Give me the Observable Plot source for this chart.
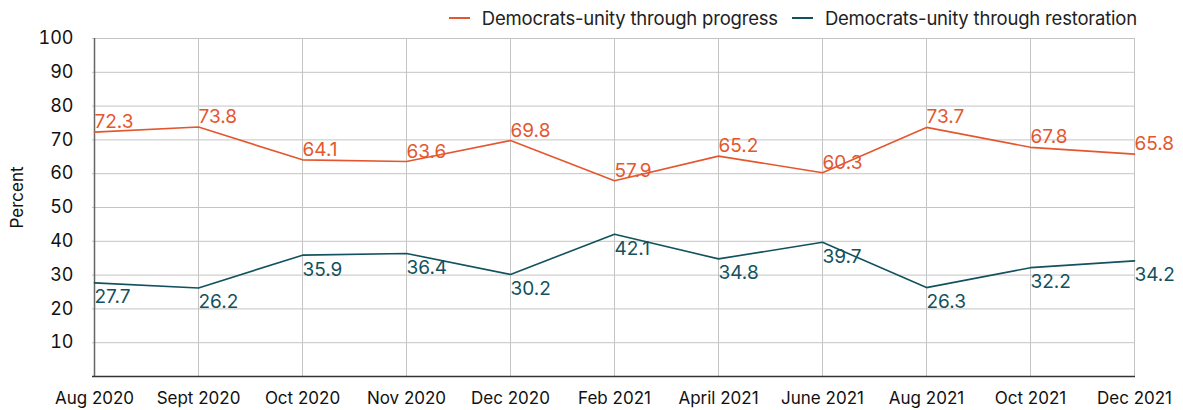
<!DOCTYPE html>
<html>
<head>
<meta charset="utf-8">
<script src="https://cdn.jsdelivr.net/npm/d3@7"></script>
<script src="https://cdn.jsdelivr.net/npm/@observablehq/plot@0.6"></script>
<style>
  html, body { margin: 0; padding: 0; background: #fff; }
  body { width: 1183px; height: 410px; overflow: hidden; font-family: Inter, "Noto Sans", sans-serif; }
  #legend { height: 30px; display: flex; justify-content: flex-end; align-items: center; padding-right: 46px; gap: 14px; font-size: 18.5px; letter-spacing: -0.2px; color: #222; box-sizing: border-box; padding-top: 6px; }
  #legend .item { display: flex; align-items: center; gap: 12px; }
  #legend .sw { width: 21px; height: 2px; display: inline-block; }
  #chart svg { overflow: visible; }
</style>
</head>
<body>
<div id="legend"></div>
<div id="chart"></div>
<script>
const categories = ["Aug 2020", "Sept 2020", "Oct 2020", "Nov 2020", "Dec 2020", "Feb 2021", "April 2021", "June 2021", "Aug 2021", "Oct 2021", "Dec 2021"];
const seriesNames = ["Democrats-unity through progress", "Democrats-unity through restoration"];
const progress = [72.3, 73.8, 64.1, 63.6, 69.8, 57.9, 65.2, 60.3, 73.7, 67.8, 65.8];
const restoration = [27.7, 26.2, 35.9, 36.4, 30.2, 42.1, 34.8, 39.7, 26.3, 32.2, 34.2];
const yTicks = [10, 20, 30, 40, 50, 60, 70, 80, 90, 100];
const colors = ["#E4572E", "#11525E"];

const legend = document.getElementById("legend");
seriesNames.forEach((n, i) => {
  const it = document.createElement("div");
  it.className = "item";
  it.innerHTML = `<span class="sw" style="background:${colors[i]}"></span><span>${n}</span>`;
  legend.appendChild(it);
});

const prog = categories.map((c, i) => ({cat: c, value: progress[i]}));
const rest = categories.map((c, i) => ({cat: c, value: restoration[i]}));

const chart = Plot.plot({
  width: 1183,
  height: 380,
  marginTop: 8,
  marginBottom: 34,
  marginLeft: 92,
  marginRight: 48,
  style: {fontFamily: "Inter, 'Noto Sans', sans-serif", color: "#111", background: "#fff", overflow: "visible"},
  x: {type: "point", domain: categories, padding: 0, label: null},
  y: {domain: [0, 100], label: null},
  marks: [
    Plot.gridY(yTicks, {stroke: "#c4c4c4", strokeOpacity: 1, strokeWidth: 1}),
    Plot.gridX(categories, {stroke: "#c4c4c4", strokeOpacity: 1, strokeWidth: 1}),
    Plot.ruleX([categories[0]], {stroke: "#666", strokeWidth: 1.5}),
    Plot.ruleY([0], {stroke: "#333", strokeWidth: 1.5}),
    Plot.axisY(yTicks, {tickSize: 0, tickPadding: 19, fontSize: 18, label: null}),
    Plot.axisX(categories, {tickSize: 0, tickPadding: 15, fontSize: 17, label: null}),
    Plot.lineY(prog, {x: "cat", y: "value", stroke: colors[0], strokeWidth: 1.6}),
    Plot.lineY(rest, {x: "cat", y: "value", stroke: colors[1], strokeWidth: 1.6}),
    Plot.text(prog, {x: "cat", y: "value", text: d => d.value.toFixed(1), fill: colors[0], textAnchor: "start", lineAnchor: "bottom", dy: -4, fontSize: 19, letterSpacing: -0.5}),
    Plot.text(rest, {x: "cat", y: "value", text: d => d.value.toFixed(1), fill: colors[1], textAnchor: "start", lineAnchor: "top", dy: 7, fontSize: 19, letterSpacing: -0.5}),
    Plot.text(["Percent"], {frameAnchor: "left", rotate: -90, dx: -75, dy: 21, fontSize: 17, fill: "#111"})
  ]
});
document.getElementById("chart").appendChild(chart);
</script>
</body>
</html>
